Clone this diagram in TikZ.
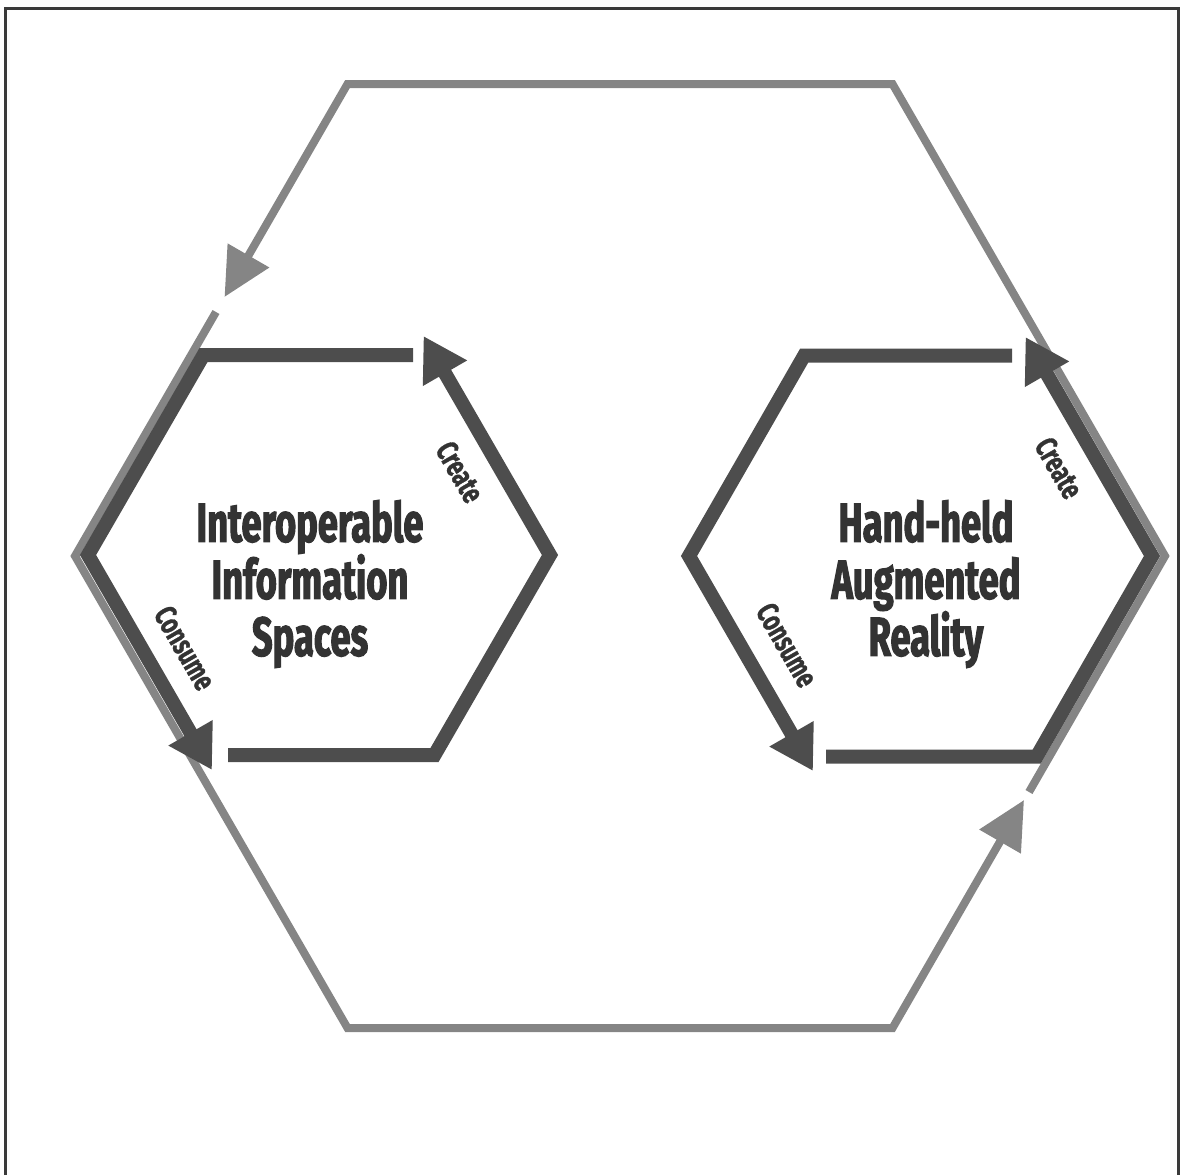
\documentclass[tikz,border=0pt]{standalone}
\usepackage{fontspec}
\setmainfont{Fira Sans}
\newfontfamily\titlefont[FakeStretch=0.66,FakeBold=2]{Fira Sans}
\newfontfamily\lblfont[FakeStretch=0.70,FakeBold=1]{Fira Sans}
\usetikzlibrary{arrows.meta}
\definecolor{darkhex}{HTML}{4D4D4D}
\definecolor{lighthex}{HTML}{858585}
\definecolor{txt}{HTML}{333333}
\definecolor{framec}{HTML}{3A3A3A}
\begin{document}
\begin{tikzpicture}[x=1pt,y=-1pt,
  bigline/.style={draw=lighthex,line width=8pt,line join=miter,
    -{Triangle[length=48pt,width=46pt,fill=lighthex]}},
  smallline/.style={draw=darkhex,line width=14pt,line join=miter,
    -{Triangle[length=43pt,width=48pt,fill=darkhex]}},
  titletext/.style={text=txt,align=center,font=\titlefont\bfseries\fontsize{55}{57}\selectfont},
  lbltext/.style={text=txt,font=\lblfont\bfseries\fontsize{31}{34}\selectfont,rotate=-60}]
\useasboundingbox (0,0) rectangle (1182,1175);
% frame
\coordinate (fbl) at (5.5,1175);
\coordinate (ftl) at (5.5,8);
\coordinate (ftr) at (1178,8);
\coordinate (fbr) at (1178,1175);
\draw[framec,line width=3pt] (fbl) -- (ftl) -- (ftr) -- (fbr);
% big hexagon
\coordinate (BL) at (75,556);
\coordinate (BTL) at (347.5,84);
\coordinate (BTR) at (892.5,84);
\coordinate (BR) at (1165,556);
\coordinate (BBR) at (892.5,1028);
\coordinate (BBL) at (347.5,1028);
\coordinate (B1s) at (1029,792);
\coordinate (B1e) at (224.5,297);
\coordinate (B2s) at (216,312);
\coordinate (B2e) at (1024,800);
\draw[bigline] (B1s) -- (BR) -- (BTR) -- (BTL) -- (B1e);
\draw[bigline] (B2s) -- (BL) -- (BBL) -- (BBR) -- (B2e);
% left hexagon
\coordinate (LL) at (88,555);
\coordinate (LTL) at (203.5,355);
\coordinate (LR) at (550,555);
\coordinate (LBR) at (434.5,755);
\coordinate (LAs) at (228,755);
\coordinate (LAe) at (423.5,336);
\coordinate (LBs) at (413,355);
\coordinate (LBe) at (212,770);
\draw[smallline] (LAs) -- (LBR) -- (LR) -- (LAe);
\draw[smallline] (LBs) -- (LTL) -- (LL) -- (LBe);
% right hexagon
\coordinate (RL) at (689,556);
\coordinate (RTL) at (804.25,355.5);
\coordinate (RR) at (1152,556);
\coordinate (RBR) at (1036.75,756.5);
\coordinate (RAs) at (826,756.5);
\coordinate (RAe) at (1025.5,337);
\coordinate (RBs) at (1012,355.5);
\coordinate (RBe) at (813,771);
\draw[smallline] (RAs) -- (RBR) -- (RR) -- (RAe);
\draw[smallline] (RBs) -- (RTL) -- (RL) -- (RBe);
% titles
\node[titletext] (t1) at (310,584) {Interoperable\\Information\\Spaces};
\node[titletext] (t2) at (926,584) {Hand-held\\Augmented\\Reality};
% labels
\node[lbltext] (c1) at (460,472) {Create};
\node[lbltext] (s1) at (185,648) {Consume};
\node[lbltext] (c2) at (1059,468) {Create};
\node[lbltext] (s2) at (787,645) {Consume};
\end{tikzpicture}
\end{document}
